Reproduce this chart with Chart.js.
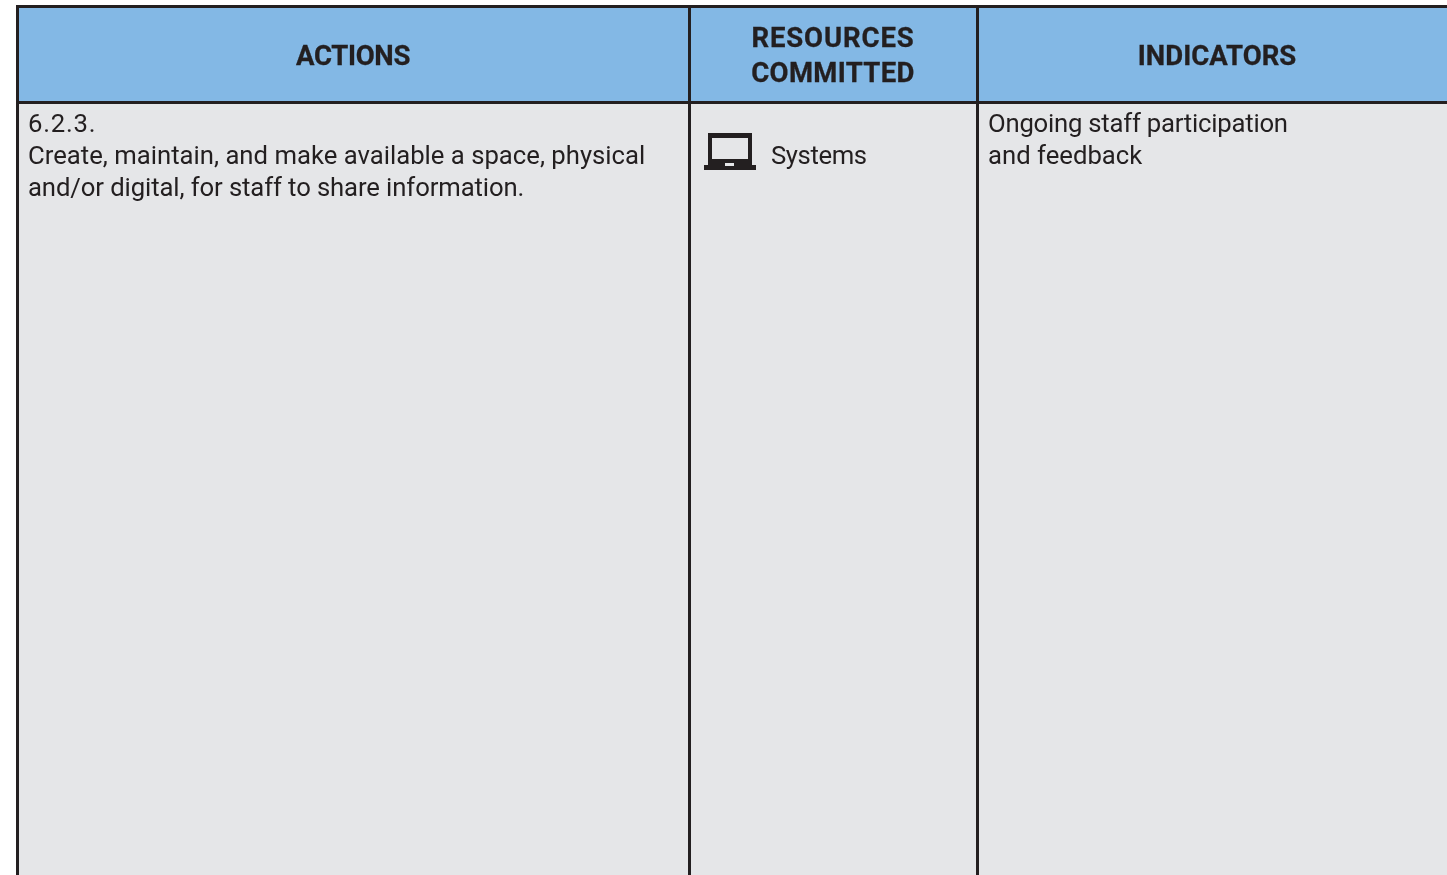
<!DOCTYPE html>
<html>
<head>
    <title>Actions, resources committed and indicators</title>
    <script src="https://cdn.jsdelivr.net/npm/chart.js"></script>
    <style>
        html, body {
            margin: 0;
            padding: 0;
            background: #ffffff;
            overflow: hidden;
        }
        .page {
            position: relative;
            width: 1447px;
            height: 875px;
        }
        .label {
            position: absolute;
            white-space: pre;
            color: #231f20;
            font-family: Roboto, sans-serif;
            font-size: 25.7px;
            line-height: 32px;
        }
        .head {
            font-weight: 700;
            font-size: 27.5px;
            line-height: 35px;
            text-align: center;
            transform: translateX(-50%);
            -webkit-text-stroke: 0.3px #231f20;
        }
        #icon {
            position: absolute;
            left: 703px;
            top: 133px;
        }
    </style>
</head>
<body>
    <div class="page">
        <canvas id="tableChart" width="1447" height="875"></canvas>
        <svg id="icon" width="54" height="38" viewBox="0 0 54 38">
            <path fill="#231f20" fill-rule="evenodd" d="M5 0H49V32H53V37H1V32H5ZM9 5V26H45V5ZM22 30V33H31V30Z"/>
        </svg>
        <div class="label head" style="left:353px;top:38px;letter-spacing:-0.3px">ACTIONS</div>
        <div class="label head" style="left:833px;top:20px"><span style="letter-spacing:0.9px">RESOURCES</span>
<span style="letter-spacing:0.35px">COMMITTED</span></div>
        <div class="label head" style="left:1217px;top:38px">INDICATORS</div>
        <div class="label" style="left:28px;top:107px"><span style="letter-spacing:0.8px">6.2.3.</span>
Create, maintain, and make available a space, physical
<span style="letter-spacing:-0.11px">and/or digital, for staff to share information.</span></div>
        <div class="label" style="left:771px;top:139px;letter-spacing:-0.4px">Systems</div>
        <div class="label" style="left:988px;top:107px"><span style="letter-spacing:-0.23px">Ongoing staff participation</span>
and feedback</div>
    </div>

    <script>
        // table edges
        const columnEdges = [17, 689, 977, 1447];
        const rowEdges = [6, 102, 875];
        const rowColors = ['#83b8e5', '#e5e6e8'];

        // one dataset per row, one floating bar per column
        const datasets = rowColors.map((color, r) => ({
            data: columnEdges.slice(0, -1).map((edge, c) => ({
                x: [edge, columnEdges[c + 1]],
                y: (rowEdges[r] + rowEdges[r + 1]) / 2
            })),
            backgroundColor: color,
            borderWidth: 0,
            grouped: false,
            barThickness: rowEdges[r + 1] - rowEdges[r]
        }));

        // grid lines are the table rules
        const ruleGrid = {
            color: '#231f20',
            lineWidth: 3,
            drawTicks: false,
            offset: false,
            z: 1
        };

        new Chart(document.getElementById('tableChart'), {
            type: 'bar',
            data: { datasets: datasets },
            options: {
                indexAxis: 'y',
                responsive: false,
                animation: false,
                layout: { padding: { left: 16, top: 5 } },
                plugins: {
                    legend: { display: false },
                    title: { display: false },
                    tooltip: { enabled: false }
                },
                scales: {
                    x: {
                        type: 'linear',
                        min: 16,
                        max: 1447,
                        grid: ruleGrid,
                        border: { display: false },
                        ticks: { display: false },
                        afterBuildTicks: axis => {
                            axis.ticks = columnEdges.slice(0, -1).map(value => ({ value: value }));
                        }
                    },
                    y: {
                        type: 'linear',
                        reverse: true,
                        offset: false,
                        min: 5,
                        max: 875,
                        grid: ruleGrid,
                        border: { display: false },
                        ticks: { display: false },
                        afterBuildTicks: axis => {
                            axis.ticks = rowEdges.slice(0, -1).map(value => ({ value: value }));
                        }
                    }
                }
            }
        });
    </script>
</body>
</html>
